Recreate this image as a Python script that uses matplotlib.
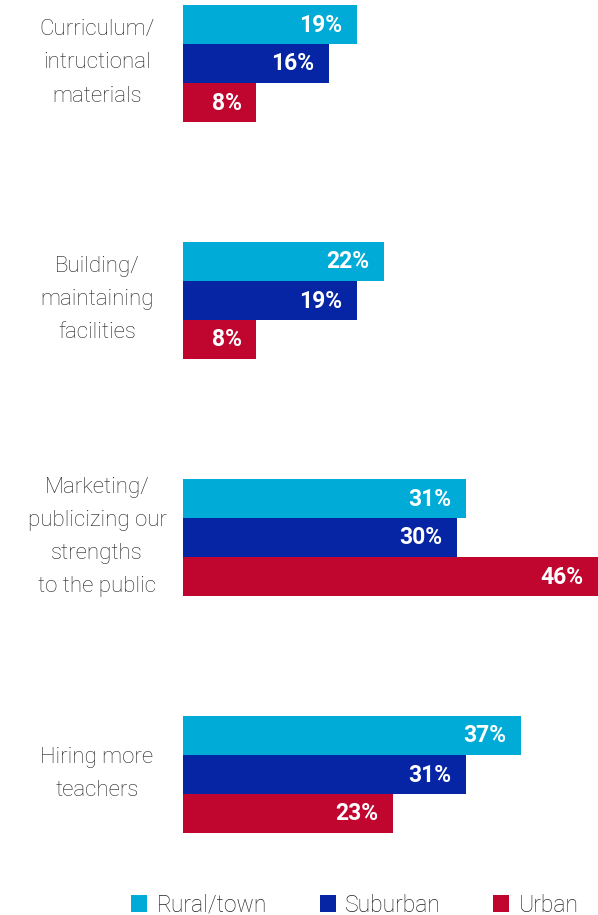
import matplotlib
matplotlib.use("Agg")
import matplotlib.pyplot as plt
import numpy as np

# data
categories = ["Curriculum/\nintructional\nmaterials",
              "Building/\nmaintaining\nfacilities",
              "Marketing/\npublicizing our\nstrengths\nto the public",
              "Hiring more\nteachers"]
series = ["Rural/town", "Suburban", "Urban"]
rural = [19, 22, 31, 37]
suburban = [16, 19, 30, 31]
urban = [8, 8, 46, 23]
colors = ["#00acd7", "#0525a5", "#c0062f"]

plt.rcParams["font.family"] = ["Roboto", "DejaVu Sans"]

W, H = 598, 915
fig = plt.figure(figsize=(W / 100, H / 100), dpi=100)
ax = fig.add_axes([183 / W, 0, 415 / W, 1])
ax.set_xlim(0, 45.4)
ax.set_ylim(H, 0)  # pixel-like units, top down

group_gap = 237
first_center = 63
bar_h = 39
values = [rural, suburban, urban]
for j, (vals, col) in enumerate(zip(values, colors)):
    ys = first_center + group_gap * np.arange(len(categories)) + (j - 1) * bar_h
    ax.barh(ys, vals, height=bar_h, color=col, label=series[j])
    for y, v in zip(ys, vals):
        ax.text(min(v, 45.4) - 1.6, y + 1, f"{v}%", ha="right", va="center",
                color="white", fontsize=16.5, fontweight="bold")

for i, cat in enumerate(categories):
    yc = first_center + group_gap * i
    fig.text(97 / W, 1 - yc / H, cat, ha="center", va="center",
             fontsize=16, fontweight="light", color="#222222", linespacing=1.75)

ax.axis("off")

leg = fig.legend(loc="center", bbox_to_anchor=(355 / W, 1 - 905 / H), ncol=3,
                 frameon=False, fontsize=16.5, handlelength=0.7, handleheight=0.7,
                 handletextpad=0.4, columnspacing=2.3)
for t in leg.get_texts():
    t.set_color("#222222")
    t.set_fontweight("light")

fig.savefig("out.png", dpi=100)
